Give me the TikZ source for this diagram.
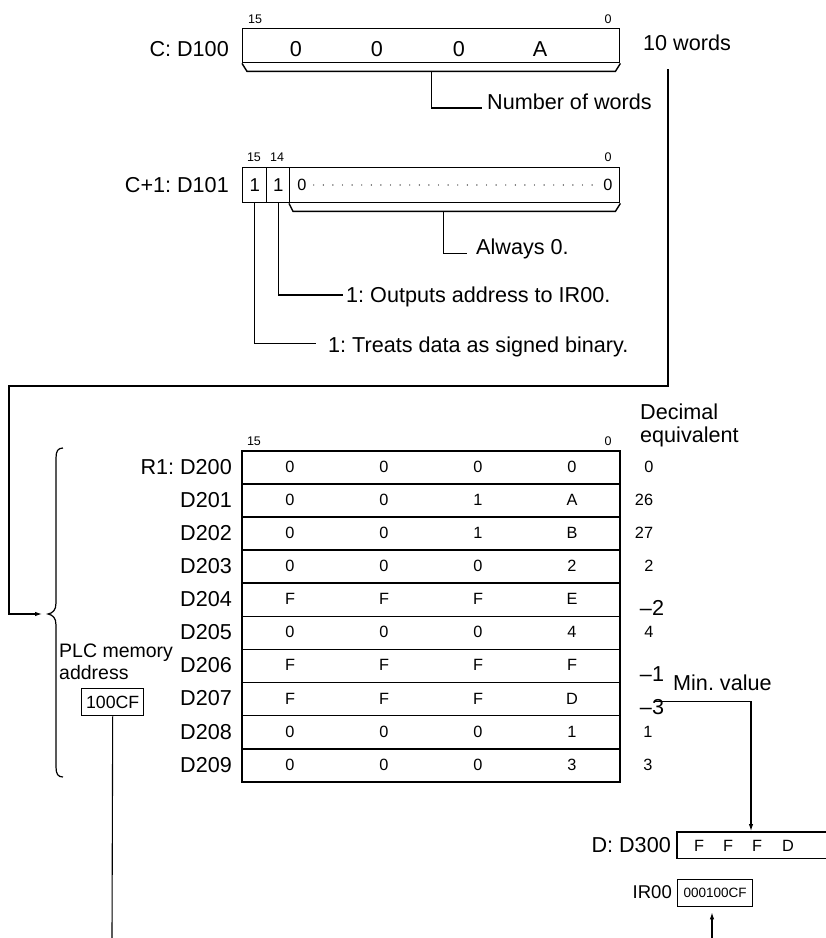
\documentclass[tikz,border=0pt]{standalone}
\usepackage{fontspec}
\setmainfont{Liberation Sans}
\usetikzlibrary{arrows.meta,calc}
\frenchspacing
\begin{document}
\frenchspacing
\begin{tikzpicture}[x=1pt,y=-1pt,
  lbl/.style={font=\fontsize{21.6}{26}\selectfont,inner sep=0pt},
  mid/.style={font=\fontsize{19.5}{23}\selectfont,inner sep=0pt},
  val/.style={font=\fontsize{16.3}{19}\selectfont,inner sep=0pt},
  bitn/.style={font=\fontsize{12.5}{15}\selectfont,inner sep=0pt},
  wbox/.style={draw,line width=1.4pt,inner sep=0pt,anchor=north west},
  lead/.style={line width=1.1pt},
  tip/.style={-{Latex[length=7pt,width=4.5pt]}},
  dotl/.style={line width=1.4pt,line cap=round,dash pattern=on 0pt off 9.6pt,black!85},
]
\useasboundingbox (0,0) rectangle (826,938);

% ---------- C: D100 ----------
\node[wbox,minimum width=377pt,minimum height=34pt] (c0) at (242,28) {};
\draw[line width=1.4pt] (c0.south west) -- ++(5,8) -- ($(c0.south east)+(-5,8)$) -- (c0.south east);
\node[lbl,anchor=base east] (c0lab) at (229,56.7) {C: D100};
\node[bitn,anchor=base] (c0b15) at (255,23.5) {15};
\node[bitn,anchor=base] (c0b0) at (608,23.5) {0};
\foreach \x/\v [count=\k] in {296/0,377/0,459/0,540/A}
  \node[lbl,anchor=base] (c0v\k) at (\x,56.7) {\v};
\node[lbl,anchor=base west] (tenw) at (643,50.7) {10 words};
\coordinate (c0mid) at ($(c0.south)+(0,8)$);
\node[lbl,anchor=base west] (nw) at (487,109.7) {Number of words};
\draw[lead] (c0mid) |- ([xshift=-5pt,yshift=1.7pt]nw.base west);

% ---------- C+1: D101 ----------
\node[wbox,minimum width=24pt,minimum height=35pt,font=\fontsize{18.6}{22}\selectfont] (k15) at (242,167) {1};
\node[wbox,minimum width=23pt,minimum height=35pt,font=\fontsize{18.6}{22}\selectfont] (k14) at (266,167) {1};
\node[wbox,minimum width=330pt,minimum height=35pt] (krest) at (289,167) {};
\draw[line width=1.4pt] (krest.south west) -- ++(4,8) -- ($(krest.south east)+(-5,8)$) -- (krest.south east);
\node[val] (kz1) at (302,185) {0};
\node[val] (kz2) at (608,185) {0};
\draw[dotl] ([xshift=7pt]kz1.east) -- ([xshift=-5pt]kz2.west);
\node[bitn,anchor=base] (k15n) at (254,161.5) {15};
\node[bitn,anchor=base] (k14n) at (277,161.5) {14};
\node[bitn,anchor=base] (k0n) at (608,161.5) {0};
\node[lbl,anchor=base east] (c1lab) at (229,192.7) {C+1: D101};
\coordinate (kmid) at ($(krest.south)+(-11,8)$);
\node[lbl,anchor=base west] (alw) at (476,254.7) {Always 0.};
\draw[lead] (kmid) |- ([xshift=-9pt,yshift=1pt]alw.base west);
\node[lbl,anchor=base west] (outp) at (346,302.7) {1: Outputs address to IR00.};
\draw[lead] (k14.south) |- ([xshift=-3pt,yshift=7.7pt]outp.base west);
\node[lbl,anchor=base west] (treat) at (328,352.7) {1: Treats data as signed binary.};
\draw[lead] (k15.south) |- ([xshift=-12pt,yshift=9pt]treat.base west);

% ---------- loop to brace ----------
\coordinate (looptop) at (668,69);
\coordinate (loopl) at (9,386);
\coordinate (bracein) at (42,614);
\draw[lead,tip] (looptop) |- (loopl) |- (bracein);
\draw[line width=1.2pt] (63,448) .. controls (58,448) and (56,451) .. (56,458) -- (56,603)
  .. controls (56,610) and (53,613) .. (48,614) .. controls (53,615) and (56,618) .. (56,625)
  -- (56,767) .. controls (56,774) and (58,777) .. (63,777);

% ---------- table ----------
\node[bitn,anchor=base] (t15) at (254,445.5) {15};
\node[bitn,anchor=base] (t0) at (608,445.5) {0};
\foreach \lab/\a/\b/\c/\d [count=\i from 0] in {R1: D200/0/0/0/0,D201/0/0/1/A,D202/0/0/1/B,D203/0/0/0/2,D204/F/F/F/E,D205/0/0/0/4,D206/F/F/F/F,D207/F/F/F/D,D208/0/0/0/1,D209/0/0/0/3}{
  \pgfmathsetmacro\yt{450+33.1*\i}
  \pgfmathsetmacro\yb{\yt+16.55+5.8}
  \pgfmathsetmacro\yl{\yt+16.55+7.7}
  \node[wbox,line width=1.6pt,minimum width=378pt,minimum height=33.1pt] (r\i) at (241,\yt) {};
  \node[lbl,anchor=base east] (rl\i) at (232,\yl) {\lab};
  \node[val,anchor=base] (ra\i) at (290,\yb) {\a};
  \node[val,anchor=base] (rb\i) at (384,\yb) {\b};
  \node[val,anchor=base] (rc\i) at (478,\yb) {\c};
  \node[val,anchor=base] (rd\i) at (572,\yb) {\d};
}
\foreach \v/\x/\n [count=\i from 0] in {0/649/0,26/644/0,27/644/0,2/649/0,–2/652/1,4/649/0,–1/652/1,–3/652/1,1/648/0,3/648/0}{
  \pgfmathsetmacro\yc{450+33.1*(\i+0.5)}
  \ifnum\n=1
    \node[lbl,anchor=base] (dec\i) at (\x,\yc+16.7) {\v};
  \else
    \node[val,anchor=base] (dec\i) at (\x,\yc+5.8) {\v};
  \fi
}
\node[lbl,anchor=base west] (decl1) at (640,419.7) {Decimal};
\node[lbl,anchor=base west] (decl2) at (640,442.7) {equivalent};

% ---------- PLC memory address ----------
\node[mid,anchor=base west] (plct) at (59,657) {PLC memory};
\node[mid,anchor=base west] (plca) at (59,679) {address};
\node[wbox,minimum width=62pt,minimum height=27pt,font=\fontsize{17.7}{20}\selectfont] (plc) at (81,688) {100CF};
\coordinate (plcend) at (112,938);
\draw[lead] (plc.south) -- (plcend);

% ---------- Min. value -> D300 ----------
\node[lbl,anchor=base west] (minv) at (673,690.7) {Min. value};
\node[inner sep=0pt,anchor=north west,minimum width=149pt,minimum height=26pt] (d300) at (677,832) {};
\draw[line width=1.4pt] (d300.north east) -- (d300.north west) -- (d300.south west) -- (d300.south east);
\draw[lead,tip] ([xshift=3pt,yshift=-2pt]dec7.north) -| ([xshift=74pt,yshift=1pt]d300.north west);
\node[lbl,anchor=base east] (d300l) at (671,852.7) {D: D300};
\foreach \x/\v [count=\k] in {699/F,728/F,757/F,788/D}
  \node[val,anchor=base] (dv\k) at (\x,851) {\v};

% ---------- IR00 ----------
\node[wbox,minimum width=75pt,minimum height=27pt,font=\fontsize{13.5}{16}\selectfont] (ir) at (677,879) {000100CF};
\node[font=\fontsize{18.5}{22}\selectfont,inner sep=0pt,anchor=base east] (irl) at (672,898.6) {IR00};
\coordinate (irsrc) at (712,938);
\draw[lead,tip,shorten >=5pt] (irsrc) -- (irsrc |- ir.south);
\end{tikzpicture}
\end{document}
